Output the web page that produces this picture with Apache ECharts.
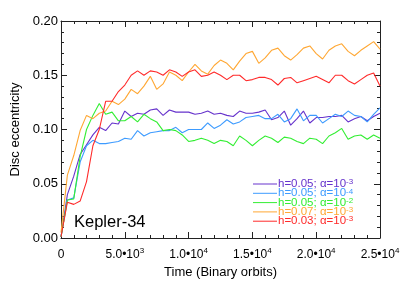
<!DOCTYPE html>
<html><head><meta charset="utf-8">
<script src="https://cdn.jsdelivr.net/npm/echarts@6/dist/echarts.min.js"></script>
<style>html,body{margin:0;padding:0;background:#fff}#c{width:407px;height:285px}</style>
</head><body><div id="c"></div>
<script>
const time = [0,500,1000,1500,2000,2500,3000,3500,4000,4500,5000,5500,6000,6500,7000,7500,8000,8500,9000,9500,10000,10500,11000,11500,12000,12500,13000,13500,14000,14500,15000,15500,16000,16500,17000,17500,18000,18500,19000,19500,20000,20500,21000,21500,22000,22500,23000,23500,24000,24500,25000];
const seriesNames = ['h05a3','h05a4','h05a2','h07a3','h03a3'];
const legendBase = ['h=0.05; \u03b1=10','h=0.05; \u03b1=10','h=0.05; \u03b1=10','h=0.07; \u03b1=10','h=0.03; \u03b1=10'];
const legendExp = ['-3','-4','-2','-3','-3'];
const colors = ['#6633cc','#3d9bff','#33ee33','#ffa733','#ff2a2a'];
const xTickLabels = {0:'0',5000:['5.0\u202210','3'],10000:['1.0\u202210','4'],15000:['1.5\u202210','4'],20000:['2.0\u202210','4'],25000:['2.5\u202210','4']};
const purple = [0.001,0.040,0.057,0.077,0.086,0.095,0.102,0.099,0.106,0.105,
 0.117,0.112,0.115,0.114,0.118,0.119,0.113,0.118,0.116,0.116,
 0.116,0.114,0.115,0.117,0.114,0.115,0.113,0.112,0.117,0.115,
 0.115,0.116,0.118,0.109,0.111,0.117,0.104,0.110,0.117,0.106,
 0.111,0.111,0.112,0.112,0.113,0.107,0.110,0.112,0.108,0.112,0.115];
const blue = [0.001,0.035,0.037,0.070,0.085,0.090,0.087,0.087,0.088,0.089,
 0.092,0.091,0.099,0.094,0.097,0.098,0.099,0.099,0.102,0.097,
 0.100,0.100,0.100,0.106,0.101,0.104,0.109,0.105,0.107,0.111,
 0.112,0.113,0.110,0.110,0.114,0.107,0.110,0.119,0.108,0.113,
 0.113,0.106,0.110,0.114,0.112,0.117,0.113,0.112,0.107,0.114,0.120];
const green = [0.001,0.035,0.036,0.075,0.100,0.113,0.124,0.114,0.116,0.108,
 0.108,0.112,0.107,0.114,0.110,0.107,0.099,0.100,0.099,0.095,
 0.089,0.090,0.092,0.090,0.087,0.090,0.089,0.085,0.094,0.090,
 0.085,0.090,0.094,0.092,0.088,0.093,0.092,0.089,0.087,0.092,
 0.091,0.087,0.094,0.097,0.101,0.091,0.094,0.095,0.091,0.095,0.092];
const orange = [0.005,0.058,0.076,0.099,0.113,0.110,0.115,0.117,0.126,0.123,
 0.128,0.137,0.133,0.140,0.149,0.137,0.142,0.153,0.150,0.145,
 0.153,0.160,0.154,0.151,0.159,0.164,0.161,0.155,0.163,0.170,
 0.172,0.161,0.166,0.173,0.175,0.168,0.164,0.169,0.175,0.177,
 0.170,0.165,0.173,0.177,0.179,0.172,0.168,0.173,0.177,0.181,0.174];
const red = [0.001,0.033,0.031,0.034,0.052,0.085,0.100,0.126,0.126,0.135,
 0.141,0.150,0.154,0.150,0.154,0.153,0.150,0.155,0.153,0.149,
 0.153,0.155,0.149,0.150,0.153,0.150,0.146,0.150,0.150,0.145,
 0.146,0.148,0.148,0.146,0.141,0.147,0.148,0.143,0.145,0.147,
 0.149,0.146,0.143,0.150,0.150,0.145,0.142,0.146,0.150,0.152,0.140];
const allValues = [purple, blue, green, orange, red];

const FONT = '"Liberation Sans", Arial, sans-serif';
const chart = echarts.init(document.getElementById('c'), null, {renderer:'canvas'});

const legendRich = {};
colors.forEach((c,i)=>{
  legendRich['t'+i] = {color:c, fontSize:11.5, fontFamily:FONT, lineHeight:12};
  legendRich['s'+i] = {color:c, fontSize:8, fontFamily:FONT, verticalAlign:'top', lineHeight:8, padding:[0,0,10,0]};
});

const axisCommon = {
  type:'value', min:0, max:25000, interval:5000,
  axisLine:{show:true, onZero:false, lineStyle:{color:'#222', width:1}},
  axisTick:{show:true, inside:true, length:6, lineStyle:{color:'#222'}},
  minorTick:{show:true, splitNumber:5, length:3, lineStyle:{color:'#222'}},
  splitLine:{show:false}, minorSplitLine:{show:false}
};
const yCommon = {
  type:'value', min:0, max:0.2, interval:0.05,
  axisLine:{show:true, onZero:false, lineStyle:{color:'#222', width:1}},
  axisTick:{show:true, inside:true, length:6, lineStyle:{color:'#222'}},
  minorTick:{show:true, splitNumber:5, length:3, lineStyle:{color:'#222'}},
  splitLine:{show:false}, minorSplitLine:{show:false}
};

chart.setOption({
  animation:false,
  backgroundColor:'#fff',
  grid:{left:61, right:27, top:21, bottom:47, containLabel:false},
  xAxis:[
    Object.assign({}, axisCommon, {
      position:'bottom',
      name:'Time (Binary orbits)', nameLocation:'middle', nameGap:17,
      nameTextStyle:{color:'#000', fontSize:13, fontFamily:FONT},
      axisLabel:{show:true, margin:9, color:'#000', fontSize:12, fontFamily:FONT,
        formatter:function(v){ const l = xTickLabels[v]; if (l===undefined) return ''; if (typeof l==='string') return '{b|'+l+'}'; return '{b|'+l[0]+'}{s|'+l[1]+'}'; },
        rich:{b:{fontSize:12, fontFamily:FONT, color:'#000', lineHeight:12, padding:[4,0,0,0]}, s:{fontSize:8, fontFamily:FONT, color:'#000', verticalAlign:'top', lineHeight:10}}
      }
    }),
    Object.assign({}, axisCommon, {position:'top', axisLabel:{show:false}})
  ],
  yAxis:[
    Object.assign({}, yCommon, {
      position:'left',
      name:'Disc eccentricity', nameLocation:'middle', nameGap:23, nameRotate:90,
      nameTextStyle:{color:'#000', fontSize:13, fontFamily:FONT},
      axisLabel:{show:true, margin:3, color:'#000', fontSize:13, fontFamily:FONT, formatter:function(v){return v.toFixed(2);}}
    }),
    Object.assign({}, yCommon, {position:'right', axisLabel:{show:false}})
  ],
  legend:{
    orient:'vertical', left:253, top:178, itemWidth:24, itemHeight:1, icon:'rect',
    itemGap:-8.7, selectedMode:false, align:'left', padding:0,
    textStyle:{fontSize:11.5, fontFamily:FONT, rich:legendRich, padding:[0,0,0,-4]},
    formatter:function(name){ const i = seriesNames.indexOf(name); return '{t'+i+'|'+legendBase[i]+'}{s'+i+'|'+legendExp[i]+'}'; },
    data:seriesNames.map((n,i)=>({name:n}))
  },
  graphic:[{type:'text', left:74, top:214, style:{text:'Kepler-34', fontSize:16.5, fontFamily:FONT, fill:'#000'}}],
  series: seriesNames.map((n,i)=>({
    name:n, type:'line', xAxisIndex:0, yAxisIndex:0, showSymbol:false, symbol:'none',
    lineStyle:{color:colors[i], width:1.1}, itemStyle:{color:colors[i]},
    data: time.map((t,k)=>[t, allValues[i][k]])
  }))
});
</script></body></html>
